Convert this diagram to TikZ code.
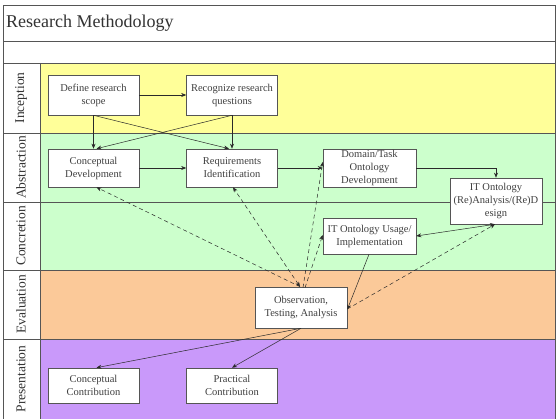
\documentclass[tikz,border=0pt]{standalone}
\usepackage{fontspec}
\setmainfont{Liberation Serif}
\usetikzlibrary{arrows.meta}
\definecolor{laneY}{HTML}{FFFF99}
\definecolor{laneG}{HTML}{CCFFCC}
\definecolor{laneO}{HTML}{FBC999}
\definecolor{laneP}{HTML}{C999FA}
\definecolor{frameC}{HTML}{555555}
\definecolor{lineC}{HTML}{2A2A2A}
\tikzset{
  stepbox/.style={draw=frameC, fill=white, line width=0.6pt, minimum width=91pt,
    align=center, inner sep=1pt, text=black!75,
    font=\fontsize{10.5}{13}\selectfont},
  lanelabel/.style={rotate=90, font=\fontsize{13.5}{15}\selectfont, text=black!80, inner sep=0pt},
  arr/.style={draw=lineC, line width=0.5pt, -{Stealth[length=5pt,width=4pt]}},
  darr/.style={arr, dashed, dash pattern=on 4pt off 3pt},
  framel/.style={draw=frameC, line width=0.7pt}
}
\begin{document}
\begin{tikzpicture}[x=1pt,y=-1pt]
\useasboundingbox (0,0) rectangle (558,419);
\clip (0,0) rectangle (558,419);
\fill[white] (0,0) rectangle (558,419);
% lanes
\fill[laneY] (40,63) rectangle (555,133);
\fill[laneG] (40,133) rectangle (555,270);
\fill[laneO] (40,270) rectangle (555,339);
\fill[laneP] (40,339) rectangle (555,425);
% frame lines
\draw[framel] (3,425) -- (3,5) -- (555,5) -- (555,425);
\draw[framel] (3,41) -- (555,41);
\draw[framel] (3,63) -- (555,63);
\draw[framel] (3,133) -- (555,133);
\draw[framel] (3,202) -- (555,202);
\draw[framel] (3,270) -- (555,270);
\draw[framel] (3,339) -- (555,339);
\draw[framel] (40,63) -- (40,425);
% title and lane labels
\node[anchor=west, font=\fontsize{18}{20}\selectfont, text=black!80, inner sep=0pt] (title) at (6,23) {Research Methodology};
\node[lanelabel] (l1) at (21,98) {Inception};
\node[lanelabel] (l2) at (21,167.5) {Abstraction};
\node[lanelabel] (l3) at (21,236) {Concretion};
\node[lanelabel] (l4) at (21,304.5) {Evaluation};
\node[lanelabel] (l5) at (21,379) {Presentation};
% boxes
\node[stepbox, minimum height=40pt] (def) at (93.5,95) {Define research\\scope};
\node[stepbox, minimum height=40pt] (rec) at (232,95) {Recognize research\\questions};
\node[stepbox, minimum height=38pt] (con) at (93.5,168) {Conceptual\\Development};
\node[stepbox, minimum height=38pt] (req) at (232,168) {Requirements\\Identification};
\node[stepbox, minimum height=38pt, minimum width=93pt] (dom) at (369.5,168) {Domain/Task\\Ontology\\Development};
\node[stepbox, minimum height=46pt, minimum width=92pt] (ita) at (496,201) {IT Ontology\\(Re)Analysis/(Re)D\\esign};
\node[stepbox, minimum height=36pt, minimum width=93pt] (use) at (369.5,236) {IT Ontology Usage/\\Implementation};
\node[stepbox, minimum height=41pt, minimum width=92pt] (obs) at (301,307.5) {Observation,\\Testing, Analysis};
\node[stepbox, minimum height=35pt] (cc) at (93.5,385.5) {Conceptual\\Contribution};
\node[stepbox, minimum height=35pt] (pc) at (232,385.5) {Practical\\Contribution};
% solid connectors
\draw[arr] (def.east) -- (rec.west);
\draw[arr] (def.south) -- (con.north);
\draw[arr] (def.south) -- ([xshift=-3pt]req.north);
\draw[arr] (rec.south) -- (req.north);
\draw[arr] (rec.south) -- ([xshift=3pt]con.north);
\draw[arr] (con.east) -- (req.west);
\draw[arr] (req.east) -- (dom.west);
\draw[arr] (dom.east) -| (ita.north);
\draw[arr, {Stealth[length=5pt,width=4pt]}-{Stealth[length=5pt,width=4pt]}] (use.east) -- ([xshift=-1pt]ita.south);
\draw[arr] ([xshift=-0.5pt]use.south) -- ([yshift=-2pt]obs.east);
\draw[arr] (obs.south) -- ([xshift=3pt]cc.north);
\draw[arr] (obs.south) -- (pc.north);
% dashed connectors
\draw[darr] ([xshift=-1pt]obs.north) -- ([xshift=3pt]con.south);
\draw[darr, {Stealth[length=5pt,width=4pt]}-{Stealth[length=5pt,width=4pt]}] ([xshift=-1pt]obs.north) -- ([xshift=1pt]req.south);
\draw[darr] ([xshift=2pt,yshift=-1pt]obs.north) -- ([yshift=6pt]dom.west);
\draw[darr] ([xshift=4pt,yshift=-1pt]obs.north) -- ([yshift=1pt]use.west);
\draw[darr] ([yshift=-1.5pt]obs.east) -- ([xshift=-1pt]ita.south);
\end{tikzpicture}
\end{document}
